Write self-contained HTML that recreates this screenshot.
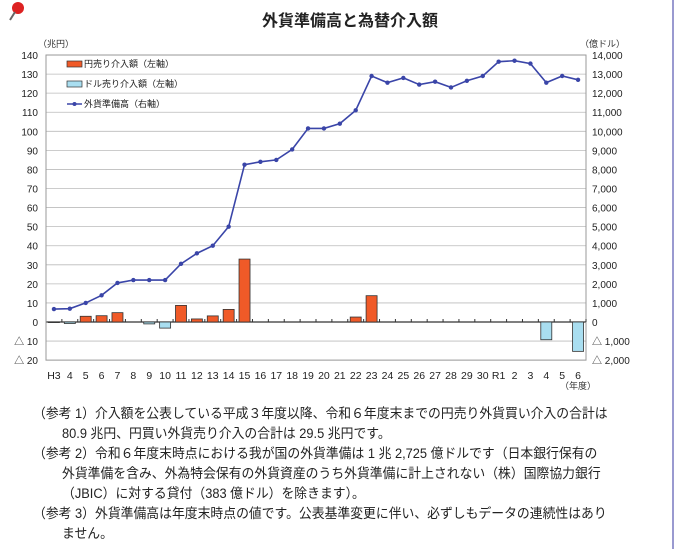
<!DOCTYPE html>
<html><head><meta charset="utf-8"><style>
body{margin:0;background:#fff;width:700px;height:549px;overflow:hidden;font-family:"Liberation Sans","Noto Sans CJK JP",sans-serif;}
.t{position:absolute;font-size:13.5px;color:#222;white-space:nowrap;transform:scaleX(0.95);transform-origin:0 0;}
</style></head><body>
<div style="position:absolute;left:672px;top:0;width:2px;height:549px;background:#9a9ad0"></div>
<svg id="s" width="700" height="400" style="position:absolute;left:0;top:0" font-family="Liberation Sans, Noto Sans CJK JP, sans-serif">
<circle cx="18" cy="8" r="6" fill="#d22"/><line x1="15" y1="12" x2="10" y2="20" stroke="#666" stroke-width="2"/>
<text x="350" y="26" font-size="16" font-weight="bold" text-anchor="middle" fill="#222">外貨準備高と為替介入額</text>
<text x="38" y="47" font-size="9" fill="#333">（兆円）</text>
<text x="580" y="47" font-size="9" fill="#333">（億ドル）</text>
<text x="560" y="389" font-size="9" fill="#333">（年度）</text>
</svg>
<script>
var s=document.getElementById('s'),ns='http://www.w3.org/2000/svg';
function e(t,a,txt){var n=document.createElementNS(ns,t);for(var k in a)n.setAttribute(k,a[k]);if(txt!==undefined)n.textContent=txt;s.appendChild(n);return n;}
var L=46,R=586,y0=322,u=1.907;function Y(v){return y0-v*u;}
for(var v=-20;v<=140;v+=10){var y=Y(v);e('line',{x1:L,x2:R,y1:y,y2:y,stroke:v==0?'#333':'#bbb','stroke-width':v==0?1.2:0.8});
e('text',{x:38,y:y+4,'font-size':10,'text-anchor':'end',fill:'#222'},v<0?'△ '+(-v):v);
var r=v*100;e('text',{x:592,y:y+4,'font-size':10,fill:'#222'},v<0?'△ '+(-r).toLocaleString('en'):r.toLocaleString('en'));}
e('rect',{x:L,y:Y(140),width:R-L,height:Y(-20)-Y(140),fill:'none',stroke:'#999'});
var lab=[];for(var i=3;i<=30;i++)lab.push(i==3?'H3':''+i);lab.push('R1','2','3','4','5','6');
var n=34,w=(R-L)/n;
var bars=[-0.3,-0.8,3,3.3,4.9,0,-1,-3.2,8.7,1.6,3.2,6.6,33,0,0,0,0,0,0,2.6,13.8,0,0,0,0,0,0,0,0,0,0,-9.3,0,-15.4];
var line=[680,700,1000,1400,2050,2200,2200,2200,3050,3600,4000,5000,8250,8400,8500,9050,10150,10150,10400,11100,12900,12550,12800,12450,12600,12300,12650,12900,13650,13700,13550,12550,12900,12700];
var pts=[];
for(var i=0;i<n;i++){var cx=L+w*(i+0.5);
e('text',{x:cx,y:379,'font-size':10.5,'text-anchor':'middle',fill:'#222'},lab[i]);
e('line',{x1:L+w*(i+1),x2:L+w*(i+1),y1:y0,y2:y0-3,stroke:'#333'});
var b=bars[i];if(b){var pos=b>0;e('rect',{x:cx-5.5,y:pos?Y(b):y0,width:11,height:Math.abs(b)*u,fill:pos?'#f05a28':'#a9def0',stroke:'#333','stroke-width':0.8});}
pts.push(cx+','+Y(line[i]/100));}
e('polyline',{points:pts.join(' '),fill:'none',stroke:'#3a45a8','stroke-width':1.6});
pts.forEach(function(p){var q=p.split(',');e('circle',{cx:q[0],cy:q[1],r:2.2,fill:'#3a45a8'});});
e('rect',{x:67,y:61,width:15,height:6,fill:'#f05a28',stroke:'#333','stroke-width':0.7});
e('text',{x:84,y:67,'font-size':9,fill:'#222'},'円売り介入額（左軸）');
e('rect',{x:67,y:81,width:15,height:6,fill:'#a9def0',stroke:'#333','stroke-width':0.7});
e('text',{x:84,y:87,'font-size':9,fill:'#222'},'ドル売り介入額（左軸）');
e('line',{x1:67,x2:82,y1:104,y2:104,stroke:'#3a45a8','stroke-width':1.5});e('circle',{cx:74.5,cy:104,r:2,fill:'#3a45a8'});
e('text',{x:84,y:107,'font-size':9,fill:'#222'},'外貨準備高（右軸）');
</script>
<div class="t" style="left:33px;top:402px">（参考 1）介入額を公表している平成３年度以降、令和６年度末までの円売り外貨買い介入の合計は</div>
<div class="t" style="left:62px;top:422px">80.9 兆円、円買い外貨売り介入の合計は 29.5 兆円です。</div>
<div class="t" style="left:33px;top:442px">（参考 2）令和６年度末時点における我が国の外貨準備は 1 兆 2,725 億ドルです（日本銀行保有の</div>
<div class="t" style="left:62px;top:462px">外貨準備を含み、外為特会保有の外貨資産のうち外貨準備に計上されない（株）国際協力銀行</div>
<div class="t" style="left:62px;top:482px">（JBIC）に対する貸付（383 億ドル）を除きます）。</div>
<div class="t" style="left:33px;top:502px">（参考 3）外貨準備高は年度末時点の値です。公表基準変更に伴い、必ずしもデータの連続性はあり</div>
<div class="t" style="left:62px;top:522px">ません。</div>
</body></html>
